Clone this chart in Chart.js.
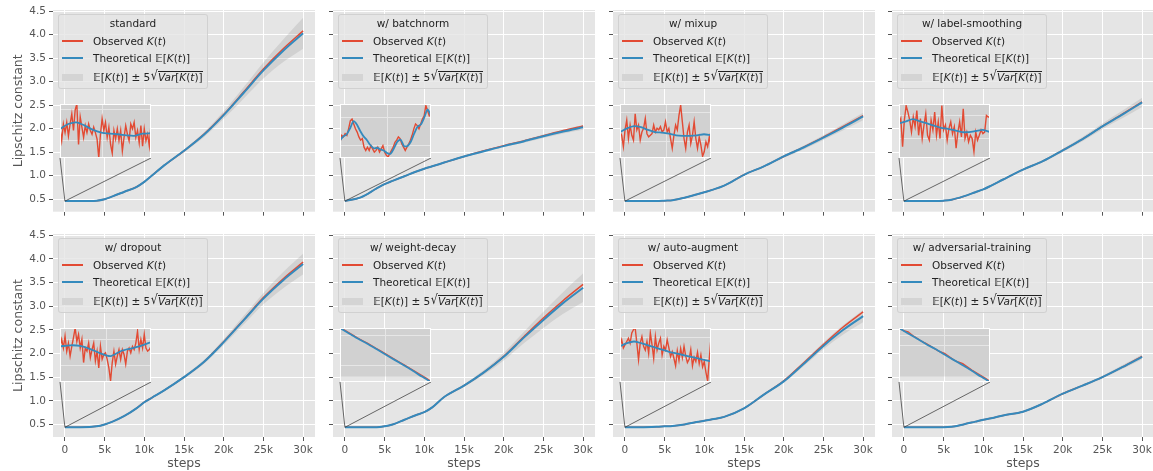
<!DOCTYPE html>
<html>
<head>
<meta charset="utf-8">
<script src="https://cdn.jsdelivr.net/npm/chart.js@4.4.0/dist/chart.umd.min.js"></script>
<style>
  html, body { margin: 0; padding: 0; background: #fff; overflow: hidden; }
  #fig { position: relative; width: 1153px; height: 471px; font-family: 'DejaVu Sans', sans-serif; }
  .panel { position: absolute; width: 262px; height: 203px; }
  .panel canvas.main { position: absolute; }
  .inset { position: absolute; left: 7px; top: 94px; width: 91px; height: 54px; }
  .legend { position: absolute; left: 5px; top: 4px; width: 150px; height: 75px; box-sizing: border-box;
            background: rgba(229,229,229,0.8); border: 1px solid rgba(204,204,204,0.8); border-radius: 3px;
            font-size: 10.5px; color: #222; }
  .ltitle { position: absolute; left: 0; right: 0; top: 2px; height: 12px; line-height: 12px; text-align: center; white-space: nowrap; }
  .lrow { position: absolute; left: 0; right: 0; height: 14px; line-height: 14px; white-space: nowrap; }
  .lline { position: absolute; left: 3px; top: 6px; width: 21px; height: 1.5px; }
  .lpatch { position: absolute; left: 3px; top: 3.5px; width: 21px; height: 7px; background: #d4d4d4; }
  .ltext { position: absolute; left: 34px; top: 0; }
  .bb { font-family: 'DejaVu Sans', sans-serif; }
  .sq { display: inline-block; transform: scale(1.05, 1.3); transform-origin: bottom; margin-left: 1px; }
  .ov { display: inline-block; border-top: 1px solid #222; line-height: 11px; padding-top: 0px; }
</style>
</head>
<body>
<div id="fig"></div>
<script>
// ---- data ----
const steps = [0, 2000, 4000, 5000, 6000, 7500, 9000, 10000, 11000, 12500, 15000, 17500, 20000, 22500, 25000, 27500, 30000];
const xTicks = [0, 5000, 10000, 15000, 20000, 25000, 30000];
const yTicks = [0.5, 1.0, 1.5, 2.0, 2.5, 3.0, 3.5, 4.0, 4.5];
const panelTitles = ['standard', 'w/ batchnorm', 'w/ mixup', 'w/ label-smoothing',
                     'w/ dropout', 'w/ weight-decay', 'w/ auto-augment', 'w/ adversarial-training'];

const theoStandard = [0.46, 0.46, 0.47, 0.50, 0.56, 0.66, 0.76, 0.87, 1.01, 1.22, 1.53, 1.87, 2.29, 2.76, 3.24, 3.66, 4.03];
const obsStandard  = [0.46, 0.46, 0.47, 0.50, 0.56, 0.66, 0.76, 0.87, 1.01, 1.22, 1.53, 1.88, 2.30, 2.78, 3.27, 3.70, 4.08];
const bandStandard = [0, 0, 0.005, 0.005, 0.01, 0.01, 0.01, 0.015, 0.015, 0.02, 0.03, 0.05, 0.08, 0.12, 0.17, 0.24, 0.33];

const theoBatchnorm = [0.46, 0.54, 0.73, 0.82, 0.89, 0.99, 1.09, 1.15, 1.20, 1.28, 1.41, 1.52, 1.63, 1.73, 1.84, 1.94, 2.03];
const obsBatchnorm  = [0.46, 0.54, 0.73, 0.82, 0.89, 0.99, 1.09, 1.15, 1.20, 1.28, 1.41, 1.53, 1.64, 1.74, 1.85, 1.96, 2.06];
const bandBatchnorm = [0, 0, 0.005, 0.005, 0.005, 0.01, 0.01, 0.01, 0.01, 0.01, 0.015, 0.02, 0.02, 0.03, 0.035, 0.04, 0.05];

const theoMixup = [0.46, 0.46, 0.46, 0.47, 0.48, 0.53, 0.60, 0.65, 0.70, 0.79, 1.02, 1.20, 1.41, 1.60, 1.81, 2.03, 2.26];
const obsMixup  = [0.46, 0.46, 0.46, 0.47, 0.48, 0.53, 0.60, 0.65, 0.70, 0.79, 1.02, 1.20, 1.41, 1.61, 1.82, 2.05, 2.28];
const bandMixup = [0, 0, 0, 0.005, 0.005, 0.005, 0.01, 0.01, 0.01, 0.01, 0.015, 0.02, 0.03, 0.04, 0.05, 0.065, 0.08];

const theoLabel = [0.46, 0.46, 0.46, 0.47, 0.49, 0.56, 0.65, 0.71, 0.79, 0.92, 1.13, 1.31, 1.54, 1.78, 2.05, 2.30, 2.56];
const obsLabel  = [0.46, 0.46, 0.46, 0.47, 0.49, 0.56, 0.65, 0.71, 0.79, 0.92, 1.13, 1.31, 1.54, 1.78, 2.05, 2.31, 2.57];
const bandLabel = [0, 0, 0, 0.005, 0.005, 0.005, 0.01, 0.01, 0.01, 0.015, 0.02, 0.025, 0.035, 0.045, 0.06, 0.08, 0.10];

const theoDropout = [0.44, 0.44, 0.46, 0.50, 0.56, 0.68, 0.84, 0.97, 1.07, 1.22, 1.50, 1.82, 2.24, 2.70, 3.16, 3.55, 3.89];
const obsDropout  = [0.44, 0.44, 0.46, 0.50, 0.56, 0.68, 0.84, 0.97, 1.07, 1.22, 1.50, 1.82, 2.25, 2.71, 3.18, 3.58, 3.93];
const bandDropout = [0, 0, 0.005, 0.005, 0.01, 0.01, 0.01, 0.015, 0.015, 0.02, 0.03, 0.04, 0.06, 0.09, 0.12, 0.17, 0.22];

const theoWeight = [0.44, 0.44, 0.44, 0.46, 0.50, 0.60, 0.70, 0.76, 0.86, 1.08, 1.32, 1.60, 1.93, 2.33, 2.71, 3.07, 3.39];
const obsWeight  = [0.44, 0.44, 0.44, 0.46, 0.50, 0.60, 0.70, 0.76, 0.86, 1.08, 1.32, 1.60, 1.94, 2.35, 2.75, 3.12, 3.46];
const bandWeight = [0, 0, 0.005, 0.005, 0.01, 0.01, 0.01, 0.015, 0.015, 0.02, 0.03, 0.05, 0.08, 0.12, 0.17, 0.23, 0.30];

const theoAuto = [0.44, 0.44, 0.45, 0.46, 0.47, 0.50, 0.55, 0.58, 0.61, 0.66, 0.84, 1.13, 1.41, 1.78, 2.16, 2.50, 2.79];
const obsAuto  = [0.44, 0.44, 0.45, 0.46, 0.47, 0.50, 0.55, 0.58, 0.61, 0.66, 0.84, 1.13, 1.42, 1.80, 2.19, 2.56, 2.88];
const bandAuto = [0, 0, 0, 0.005, 0.005, 0.005, 0.01, 0.01, 0.01, 0.01, 0.015, 0.02, 0.03, 0.05, 0.07, 0.10, 0.13];

const theoAdv = [0.44, 0.44, 0.44, 0.44, 0.45, 0.50, 0.56, 0.60, 0.63, 0.69, 0.77, 0.94, 1.15, 1.32, 1.50, 1.71, 1.93];
const obsAdv  = [0.44, 0.44, 0.44, 0.44, 0.45, 0.50, 0.56, 0.60, 0.63, 0.69, 0.77, 0.94, 1.15, 1.32, 1.50, 1.71, 1.94];
const bandAdv = [0, 0, 0, 0, 0.005, 0.005, 0.005, 0.01, 0.01, 0.01, 0.01, 0.015, 0.02, 0.025, 0.03, 0.04, 0.05];

// zoomed insets: values as % of the inset height, samples evenly spaced across it
const zObsStandard = [54,32,63,47,66,41,63,82,51,89,100,25,76,57,38,60,47,63,51,44,57,47,35,0,44,73,51,66,38,57,25,9,51,35,54,32,51,13,38,60,44,32,63,54,66,38,51,28,60,22,54,32,44,22,63];
const zTheoStandard = [54,63,66,60,52,47,45,44,42,41,45,46];
const zObsBatchnorm = [29,42,39,45,42,54,69,72,63,54,48,39,33,36,20,14,20,14,23,17,11,14,20,11,17,23,11,5,2,8,14,20,29,33,39,36,26,20,14,20,26,33,42,54,63,60,54,63,72,78,97,88,78,82];
const zTheoBatchnorm = [33,40,44,55,68,62,50,40,33,24,18,19,16,14,9,8,18,30,34,22,22,30,45,58,62,75,90,78];
const zObsMixup = [48,42,21,52,70,36,61,42,33,82,52,61,33,48,55,73,45,39,42,45,61,48,55,52,58,48,52,67,48,55,36,18,42,61,52,79,98,67,36,18,48,61,27,42,67,36,18,39,24,3,12,30,21,39,21];
const zTheoMixup = [48,55,59,57,52,48,47,45,42,41,41,42,44,42];
const zObsLabel = [64,73,21,70,97,85,70,48,76,58,88,42,73,36,61,82,42,33,70,52,85,42,67,36,97,52,61,33,55,67,45,58,18,48,67,39,91,36,48,30,42,36,12,48,33,42,52,45,48,79,76,76];
const zTheoLabel = [64,68,72,68,64,60,56,54,51,48,48,50,52,48];
const zObsDropout = [66,79,63,85,57,72,48,66,82,100,75,88,63,79,36,63,57,72,45,60,72,39,57,26,66,42,51,54,42,26,2,36,57,33,48,60,42,60,51,33,57,63,54,66,60,72,94,60,79,63,88,63,57,60,66];
const zTheoDropout = [66,68,67,61,53,48,57,62,67,74];
const zObsWeight = [100,96,91,86,81,76,72,67,62,57,52,47,42,37,32,27,22,17,12,7,1];
const zTheoWeight = [100,90,80,71,61,51,41,31,21,10,0];
const zObsAdv = [100,95,93,86,81,75,71,66,61,56,53,47,41,37,34,28,22,17,12,7,1];
const zTheoAdv = [100,90,80,70,61,51,41,31,21,10,0];
const zObsAuto = [66,78,63,69,75,81,72,91,97,100,72,41,72,84,66,59,75,53,91,69,44,84,59,72,81,50,66,59,78,63,47,56,44,30,58,40,62,45,66,48,36,42,60,30,46,38,55,34,50,28,38,18,2,44,82];
const zTheoAuto = [66,72,75,72,68,64,60,56,53,50,47,44,41,38];

// inset grid lines (% of inset) and band limits inside the inset
const zGridStandard = { x: [47], y: [90, 32] };
const zGridBatchnorm = { x: [52], y: [75, 23] };
const zGridMixup = { x: [51], y: [84, 31] };
const zGridLabel = { x: [50], y: [79, 36] };
const zGridDropout = { x: [51], y: [78, 30] };
const zGridWeight = { x: [50], y: [86, 30] };
const zGridAuto = { x: [50], y: [83, 44] };
const zGridAdv = { x: [50], y: [86, 68] };
const zBandFull = [-10, 110];
const zBandLow = [10, 110];

// ---- layout / style ----
const RED = '#E24A33', BLUE = '#348ABD', BAND = 'rgba(128,128,128,0.2)', BG = '#E5E5E5';
const COL_LEFT = [53, 333, 613, 892], ROW_TOP = [10, 234];
const PLOT_W = 262, PLOT_H = 203;
const INSET = { left: 7, top: 94, w: 91, h: 54 };

Chart.defaults.font.family = "'DejaVu Sans', sans-serif";
Chart.defaults.color = '#555555';

const panels = [
  { theo: theoStandard, obs: obsStandard, band: bandStandard, zObs: zObsStandard, zTheo: zTheoStandard, zGrid: zGridStandard, zBand: zBandFull },
  { theo: theoBatchnorm, obs: obsBatchnorm, band: bandBatchnorm, zObs: zObsBatchnorm, zTheo: zTheoBatchnorm, zGrid: zGridBatchnorm, zBand: zBandFull },
  { theo: theoMixup, obs: obsMixup, band: bandMixup, zObs: zObsMixup, zTheo: zTheoMixup, zGrid: zGridMixup, zBand: zBandFull },
  { theo: theoLabel, obs: obsLabel, band: bandLabel, zObs: zObsLabel, zTheo: zTheoLabel, zGrid: zGridLabel, zBand: zBandFull },
  { theo: theoDropout, obs: obsDropout, band: bandDropout, zObs: zObsDropout, zTheo: zTheoDropout, zGrid: zGridDropout, zBand: zBandFull },
  { theo: theoWeight, obs: obsWeight, band: bandWeight, zObs: zObsWeight, zTheo: zTheoWeight, zGrid: zGridWeight, zBand: zBandLow },
  { theo: theoAuto, obs: obsAuto, band: bandAuto, zObs: zObsAuto, zTheo: zTheoAuto, zGrid: zGridAuto, zBand: zBandFull },
  { theo: theoAdv, obs: obsAdv, band: bandAdv, zObs: zObsAdv, zTheo: zTheoAdv, zGrid: zGridAdv, zBand: zBandLow },
];

const plotBg = {
  id: 'plotBg',
  beforeDraw(chart) {
    const { ctx, chartArea: a } = chart;
    ctx.save();
    ctx.fillStyle = BG;
    ctx.fillRect(a.left, a.top, a.width, a.height);
    ctx.restore();
  }
};

const insetFrame = {
  id: 'insetFrame',
  afterDraw(chart) {
    const { ctx, width, height } = chart;
    ctx.save();
    ctx.strokeStyle = '#ffffff';
    ctx.lineWidth = 1;
    ctx.strokeRect(0.5, 0.5, width - 1, height - 1);
    ctx.restore();
  }
};

const connectors = {
  id: 'connectors',
  afterDatasetsDraw(chart, args, opts) {
    const { ctx, scales, chartArea: a } = chart;
    const px = scales.x.getPixelForValue(0);
    const py = scales.y.getPixelForValue(opts.y0);
    const by = a.top + INSET.top + INSET.h;
    ctx.save();
    ctx.strokeStyle = '#444';
    ctx.lineWidth = 0.8;
    ctx.beginPath();
    ctx.moveTo(a.left + INSET.left, by);
    ctx.lineTo(px, py);
    ctx.moveTo(a.left + INSET.left + INSET.w, by);
    ctx.lineTo(px, py);
    ctx.stroke();
    ctx.restore();
  }
};

const pts = ys => steps.map((s, i) => ({ x: s, y: ys[i] }));
const bandPts = (theo, band, sign) => steps.map((s, i) => ({ x: s, y: theo[i] + sign * band[i] }));
const zPts = ys => ys.map((y, i) => ({ x: i * 100 / (ys.length - 1), y }));

function legendHtml(title) {
  const K = '<i>K</i>(<i>t</i>)';
  return `<div class="legend">
    <div class="ltitle">${title}</div>
    <div class="lrow" style="top:19px"><span class="lline" style="background:${RED}"></span><span class="ltext">Observed ${K}</span></div>
    <div class="lrow" style="top:36px"><span class="lline" style="background:${BLUE}"></span><span class="ltext">Theoretical <span class="bb">𝔼</span>[${K}]</span></div>
    <div class="lrow" style="top:55px"><span class="lpatch"></span><span class="ltext"><span class="bb">𝔼</span>[${K}] ± 5<span class="sq">√</span><span class="ov"><i>Var</i>[${K}]</span></span></div>
  </div>`;
}

const fig = document.getElementById('fig');

panels.forEach((p, idx) => {
  const row = Math.floor(idx / 4), col = idx % 4;
  const padL = col === 0 ? 53 : 10, padR = 12, padT = 10, padB = row === 1 ? 34 : 8;

  const div = document.createElement('div');
  div.className = 'panel';
  div.style.left = COL_LEFT[col] + 'px';
  div.style.top = ROW_TOP[row] + 'px';
  fig.appendChild(div);

  const cv = document.createElement('canvas');
  cv.className = 'main';
  cv.width = PLOT_W + padL + padR;
  cv.height = PLOT_H + padT + padB;
  cv.style.left = -padL + 'px';
  cv.style.top = -padT + 'px';
  div.appendChild(cv);

  new Chart(cv, {
    type: 'line',
    data: {
      datasets: [
        { data: pts(p.theo), borderColor: BLUE, borderWidth: 2, pointRadius: 0, cubicInterpolationMode: 'monotone', order: 0 },
        { data: pts(p.obs), borderColor: RED, borderWidth: 1.5, pointRadius: 0, cubicInterpolationMode: 'monotone', order: 1 },
        { data: bandPts(p.theo, p.band, 1), borderWidth: 0, pointRadius: 0, backgroundColor: BAND, fill: '+1', cubicInterpolationMode: 'monotone', order: 2 },
        { data: bandPts(p.theo, p.band, -1), borderWidth: 0, pointRadius: 0, fill: false, cubicInterpolationMode: 'monotone', order: 3 },
      ]
    },
    options: {
      responsive: false,
      animation: false,
      devicePixelRatio: 1,
      layout: { padding: { top: padT, right: padR, left: 0, bottom: 0 } },
      plugins: { legend: { display: false }, tooltip: { enabled: false }, connectors: { y0: p.obs[0] } },
      scales: {
        x: {
          type: 'linear', min: -1500, max: 31500,
          afterBuildTicks: s => { s.ticks = xTicks.map(v => ({ value: v })); },
          afterFit: s => { s.height = padB; },
          grid: { color: '#ffffff', lineWidth: 1, tickColor: '#555555', tickLength: 4 },
          border: { display: false },
          ticks: { autoSkip: false, maxRotation: 0, padding: 3, color: '#555555', font: { size: 10.5 },
                   callback: v => row === 1 ? (v === 0 ? '0' : (v / 1000) + 'k') : '' },
          title: { display: row === 1, text: 'steps', color: '#555555', font: { size: 12.5 }, padding: { top: 0, bottom: 0 } }
        },
        y: {
          type: 'linear', min: 0.235, max: 4.525,
          afterBuildTicks: s => { s.ticks = yTicks.map(v => ({ value: v })); },
          afterFit: s => { s.width = padL; },
          grid: { color: '#ffffff', lineWidth: 1, tickColor: '#555555', tickLength: 4 },
          border: { display: false },
          ticks: { padding: 3, color: '#555555', font: { size: 10.5 },
                   callback: v => col === 0 ? v.toFixed(1) : '' },
          title: { display: col === 0, text: 'Lipschitz constant', color: '#555555', font: { size: 12.5 }, padding: { top: 11, bottom: 0 } }
        }
      }
    },
    plugins: [plotBg, connectors]
  });

  div.insertAdjacentHTML('beforeend', legendHtml(panelTitles[idx]));

  const inset = document.createElement('div');
  inset.className = 'inset';
  div.appendChild(inset);
  const zc = document.createElement('canvas');
  zc.width = INSET.w;
  zc.height = INSET.h;
  inset.appendChild(zc);

  new Chart(zc, {
    type: 'line',
    data: {
      datasets: [
        { data: zPts(p.zTheo), borderColor: BLUE, borderWidth: 1.8, pointRadius: 0, tension: 0.25, order: 0 },
        { data: zPts(p.zObs), borderColor: RED, borderWidth: 1.4, pointRadius: 0, tension: 0, order: 1 },
        { data: [{ x: 0, y: p.zBand[1] }, { x: 100, y: p.zBand[1] }], borderWidth: 0, pointRadius: 0, backgroundColor: BAND, fill: '+1', order: 2 },
        { data: [{ x: 0, y: p.zBand[0] }, { x: 100, y: p.zBand[0] }], borderWidth: 0, pointRadius: 0, fill: false, order: 3 },
      ]
    },
    options: {
      responsive: false,
      animation: false,
      devicePixelRatio: 1,
      layout: { padding: 0 },
      plugins: { legend: { display: false }, tooltip: { enabled: false } },
      scales: {
        x: {
          type: 'linear', min: 0, max: 100,
          afterBuildTicks: s => { s.ticks = p.zGrid.x.map(v => ({ value: v })); },
          afterFit: s => { s.height = 0; },
          grid: { color: '#ffffff', lineWidth: 1, drawTicks: false },
          border: { display: false },
          ticks: { display: false }
        },
        y: {
          type: 'linear', min: 0, max: 100,
          afterBuildTicks: s => { s.ticks = p.zGrid.y.map(v => ({ value: v })); },
          afterFit: s => { s.width = 0; },
          grid: { color: '#ffffff', lineWidth: 1, drawTicks: false },
          border: { display: false },
          ticks: { display: false }
        }
      }
    },
    plugins: [plotBg, insetFrame]
  });
});
</script>
</body>
</html>
